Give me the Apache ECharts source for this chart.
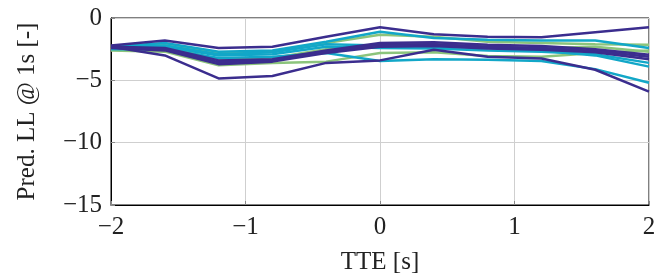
<!DOCTYPE html>
<html><head><meta charset="utf-8">
<script src="https://cdn.jsdelivr.net/npm/echarts@6/dist/echarts.min.js"></script>
<style>html,body{margin:0;padding:0;background:#fff}#c{width:668px;height:280px}</style>
</head><body><div id="c"></div>
<script>
const xs = [-2,-1.6,-1.2,-0.8,-0.4,0,0.4,0.8,1.2,1.6,2];
const xTicks = [-2,-1,0,1,2];
const yTicks = [-15,-10,-5,0];
// green lines
const g1 = [-2.5,-2.1,-2.8,-2.7,-2.0,-1.35,-1.5,-1.9,-2.0,-2.1,-2.15];
const g2 = [-2.6,-2.7,-3.8,-3.6,-3.5,-2.8,-2.75,-3.05,-3.1,-2.8,-2.6];
const g3 = [-2.45,-2.3,-3.3,-3.2,-2.5,-2.1,-2.1,-2.3,-2.4,-2.3,-2.7];
// teal lines
const t1 = [-2.3,-2.0,-2.7,-2.6,-1.9,-1.1,-1.6,-1.75,-1.8,-1.8,-2.4];
const t2 = [-2.4,-2.3,-3.0,-2.9,-2.3,-2.4,-2.45,-2.6,-2.7,-2.9,-3.6];
const t3 = [-2.5,-2.5,-3.2,-3.1,-2.8,-3.45,-3.3,-3.35,-3.45,-4.1,-5.2];
const t4 = [-2.35,-2.2,-2.9,-2.75,-2.1,-2.2,-2.3,-2.4,-2.6,-3.0,-3.9];
// purple lines
const p1 = [-2.2,-1.8,-2.4,-2.3,-1.5,-0.75,-1.3,-1.5,-1.55,-1.15,-0.75];
const p2 = [-2.3,-3.0,-4.85,-4.65,-3.6,-3.4,-2.55,-3.1,-3.25,-4.15,-5.9];
const p3 = [-2.3,-2.4,-3.4,-3.3,-2.6,-2.0,-1.95,-2.15,-2.25,-2.5,-2.95];
const p4 = [-2.4,-2.6,-3.7,-3.5,-2.8,-2.3,-2.25,-2.45,-2.55,-2.75,-3.3];
const p5 = [-2.35,-2.5,-3.55,-3.4,-2.7,-2.15,-2.1,-2.3,-2.4,-2.65,-3.1];

const GREEN = '#8cc47c', TEAL = '#12a7c8', PURPLE = '#3b2d8e';
const lines = [
  [g1,GREEN],[g2,GREEN],[g3,GREEN],
  [t1,TEAL],[t2,TEAL],[t3,TEAL],[t4,TEAL],
  [p1,PURPLE],[p2,PURPLE],[p3,PURPLE],[p4,PURPLE],[p5,PURPLE]
];
const fmt = v => (v < 0 ? '\u2212' + Math.abs(v) : String(v));
const font = 'Liberation Serif';
const chart = echarts.init(document.getElementById('c'), null, {renderer:'canvas'});
chart.setOption({
  animation:false,
  grid:{left:111,right:19,top:18,bottom:74,show:true,borderColor:'#000',borderWidth:1,backgroundColor:'transparent'},
  xAxis:{type:'value',min:-2,max:2,interval:1,
    name:'TTE [s]',nameLocation:'middle',nameGap:45,
    nameTextStyle:{fontFamily:font,fontSize:25,color:'#222'},
    axisLine:{show:true,onZero:false,lineStyle:{color:'#000',width:1}},
    axisTick:{show:true,inside:true,length:4,lineStyle:{color:'#888'}},
    axisLabel:{formatter:fmt,fontFamily:font,fontSize:25,color:'#222',margin:10},
    splitLine:{show:true,lineStyle:{color:'#cfcfcf',width:1}}},
  yAxis:{type:'value',min:-15,max:0,interval:5,
    name:'Pred. LL @ 1s [-]',nameLocation:'middle',nameGap:71,
    nameTextStyle:{fontFamily:font,fontSize:25,color:'#222'},
    axisLine:{show:true,onZero:false,lineStyle:{color:'#000',width:1}},
    axisTick:{show:true,inside:true,length:4,lineStyle:{color:'#888'}},
    axisLabel:{formatter:fmt,fontFamily:font,fontSize:25,color:'#222',margin:9},
    splitLine:{show:true,lineStyle:{color:'#cfcfcf',width:1}}},
  series: lines.map(([d,c]) => ({
    type:'line', data: xs.map((x,i)=>[x,d[i]]), symbol:'none',
    lineStyle:{color:c,width:2.5}, itemStyle:{color:c}, z:2
  }))
});
</script></body></html>
